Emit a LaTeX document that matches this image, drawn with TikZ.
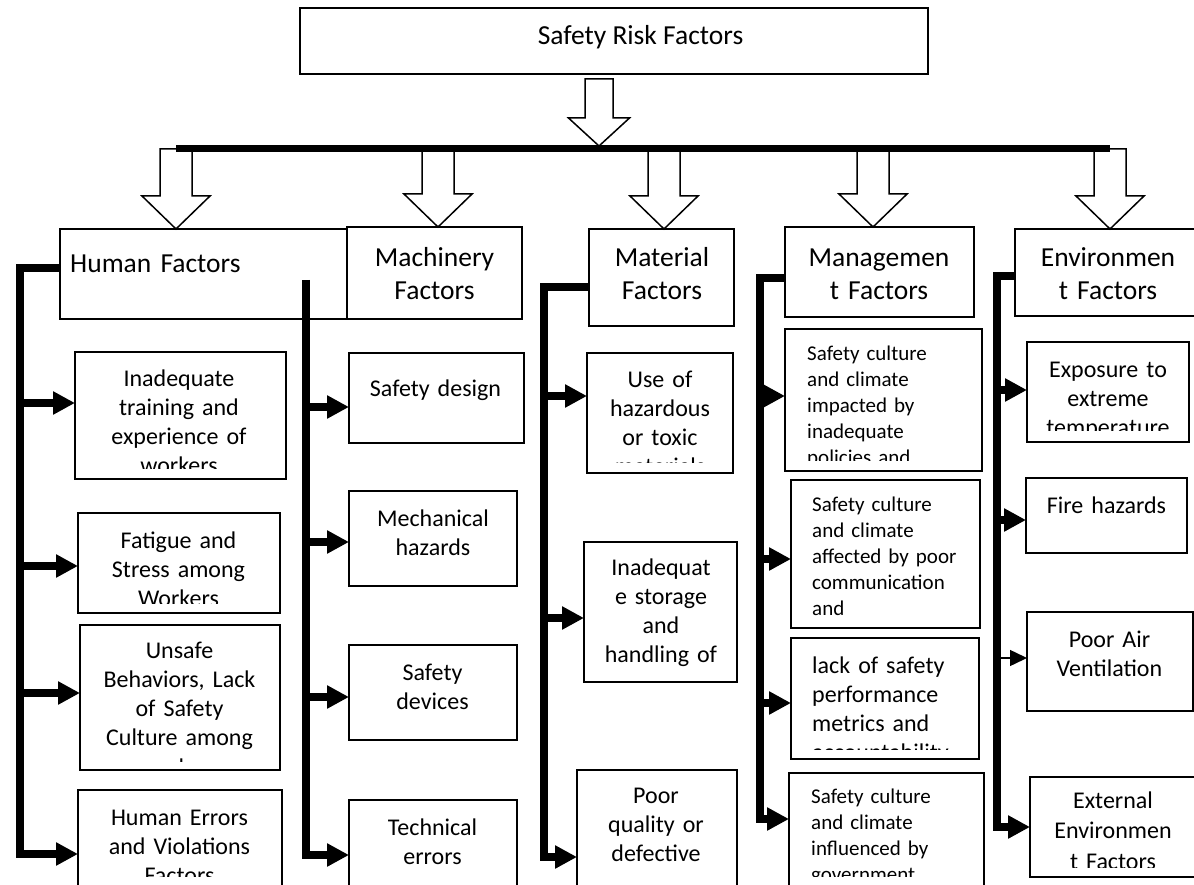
\documentclass[tikz,border=0pt]{standalone}
\usepackage{fontspec}
\setmainfont{Carlito}
\usetikzlibrary{arrows.meta, calc, positioning}

% hollow block arrow pointing down: start, tip, shaft half width, head half width, head length
\newcommand{\blockdown}[5]{%
  \draw[hollow] let \p1=(#1), \p2=(#2) in
    (\x1-#3,\y1) -- (\x1-#3,\y2+#5) -- (\x1-#4,\y2+#5) -- (\x1,\y2)
    -- (\x1+#4,\y2+#5) -- (\x1+#3,\y2+#5) -- (\x1+#3,\y1) -- cycle;
}

\begin{document}
\begin{tikzpicture}[x=1pt, y=-1pt,
  headbox/.style={draw, line width=1.3pt, inner sep=0pt, outer sep=0pt, anchor=north west},
  riskbox/.style={draw, line width=1.3pt, inner sep=0pt, outer sep=0pt, anchor=north west},
  headtext/.style={font=\fontsize{27.5}{32.5}\selectfont, inner sep=0pt, anchor=base, text width=200pt, align=center},
  subtext/.style={font=\fontsize{24}{29.3}\selectfont, inner sep=0pt, anchor=base, text width=200pt, align=center},
  smalltext/.style={font=\fontsize{21}{26}\selectfont, inner sep=0pt, anchor=base west, text width=180pt, align=left},
  spine/.style={line width=8pt},
  branch/.style={line width=8pt, -{Triangle[length=22pt, width=22pt]}},
  thinbranch/.style={line width=1.5pt, -{Triangle[length=17pt, width=16pt]}},
  hollow/.style={line width=1.5pt, fill=white, line join=miter},
  bar/.style={line width=7pt}
]
\fill[white] (0,0) rectangle (1194,885);
\useasboundingbox (0,0) rectangle (1194,885);

% top box
\node[headbox, minimum width=628pt, minimum height=66pt] (srf) at (300,8) {};
\node[font=\fontsize{27.5}{33}\selectfont, inner sep=0pt, anchor=base] (srf-txt) at (640.5,45) {Safety Risk Factors};

% header boxes
\node[headbox, minimum width=287pt, minimum height=90pt] (hh) at (60,229) {};
\node[headbox, minimum width=175pt, minimum height=92pt] (hm) at (347,227) {};
\node[headbox, minimum width=145pt, minimum height=97pt] (ht) at (589,229) {};
\node[headbox, minimum width=189pt, minimum height=90pt] (hg) at (785,227) {};
\node[headbox, minimum width=186pt, minimum height=87pt] (he) at (1015,229) {};

\node[headtext, anchor=base west, align=left] (hh-txt) at (70,273) {Human Factors};
\node[headtext] (hm-txt) at (434.5,267) {Machinery\\Factors};
\node[headtext] (ht-txt) at (662,267) {Material\\Factors};
\node[headtext] (hg-txt) at (879,267) {Managemen\\t Factors};
\node[headtext] (he-txt) at (1108,267) {Environmen\\t Factors};

% hollow arrows and bar
\coordinate (a0) at (599,79);
\coordinate (a0-tip) at (599,146);
\blockdown{a0}{a0-tip}{14pt}{30.5pt}{28pt}
\coordinate (a1) at (176,149);
\coordinate (a2) at (438,149);
\coordinate (a3) at (664,149);
\coordinate (a4) at (873,149);
\coordinate (a5) at (1110,149);
\blockdown{a1}{a1 |- hh.north}{16pt}{34pt}{33pt}
\blockdown{a2}{a2 |- hm.north}{16pt}{34pt}{33pt}
\blockdown{a3}{a3 |- ht.north}{16pt}{34pt}{33pt}
\blockdown{a4}{a4 |- hg.north}{16pt}{34pt}{33pt}
\blockdown{a5}{a5 |- he.north}{16pt}{34pt}{33pt}
\draw[bar] (a1) -- (a5);

% human factors
\node[riskbox, minimum width=211pt, minimum height=127pt] (h1) at (75,352) {};
\node[riskbox, minimum width=202pt, minimum height=100pt] (h2) at (78,513) {};
\node[riskbox, minimum width=200pt, minimum height=145pt] (h3) at (80,625) {};
\node[riskbox, minimum width=204pt, minimum height=128pt] (h4) at (78,790) {};
\begin{scope}
  \clip (h1.north west) rectangle (h1.east |- 0,468);
  \node[subtext] (h1-txt) at (179,386) {Inadequate\\training and\\experience of\\workers};
\end{scope}
\begin{scope}
  \clip (h2.north west) rectangle (h2.east |- 0,603);
  \node[subtext] (h2-txt) at (178.5,548) {Fatigue and\\Stress among\\Workers};
\end{scope}
\begin{scope}
  \clip (h3.north west) rectangle (h3.east |- 0,761);
  \node[subtext] (h3-txt) at (179.5,658) {Unsafe\\Behaviors, Lack\\of Safety\\Culture among\\workers};
\end{scope}
\begin{scope}
  \clip (h4.north west) rectangle (h4.east |- 0,876);
  \node[subtext] (h4-txt) at (179.5,825) {Human Errors\\and Violations\\Factors};
\end{scope}

% machinery factors
\node[riskbox, minimum width=175pt, minimum height=90pt] (m1) at (349,353) {};
\node[riskbox, minimum width=168pt, minimum height=95pt] (m2) at (349,491) {};
\node[riskbox, minimum width=168pt, minimum height=95pt] (m3) at (349,645) {};
\node[riskbox, minimum width=168pt, minimum height=110pt] (m4) at (349,800) {};
\node[subtext] (m1-txt) at (435.5,396) {Safety design};
\node[subtext] (m2-txt) at (433,526) {Mechanical\\hazards};
\node[subtext] (m3-txt) at (432.5,680) {Safety\\devices};
\node[subtext] (m4-txt) at (432.5,835) {Technical\\errors};

% material factors
\node[riskbox, minimum width=146pt, minimum height=120pt] (t1) at (587,353) {};
\node[riskbox, minimum width=153pt, minimum height=140pt] (t2) at (584,542) {};
\node[riskbox, minimum width=160pt, minimum height=174pt] (t3) at (577,770) {};
\begin{scope}
  \clip (t1.north west) rectangle (t1.east |- 0,462);
  \node[subtext] (t1-txt) at (660,387) {Use of\\hazardous\\or toxic\\materials};
\end{scope}
\node[subtext] (t2-txt) at (661,575) {Inadequat\\e storage\\and\\handling of};
\node[subtext] (t3-txt) at (656,803) {Poor\\quality or\\defective};

% management factors
\node[riskbox, minimum width=197pt, minimum height=142pt] (g1) at (785,329) {};
\node[riskbox, minimum width=189pt, minimum height=148pt] (g2) at (791,480) {};
\node[riskbox, minimum width=188pt, minimum height=121pt] (g3) at (791,638) {};
\node[riskbox, minimum width=195pt, minimum height=130pt] (g4) at (789,773) {};
\begin{scope}
  \clip (g1.north west) rectangle (g1.east |- 0,460);
  \node[smalltext] (g1-txt) at (807,360) {Safety culture\\and climate\\impacted by\\inadequate\\policies and};
\end{scope}
\node[smalltext] (g2-txt) at (812,511) {Safety culture\\and climate\\affected by poor\\communication\\and};
\begin{scope}
  \clip (g3.north west) rectangle (g3.east |- 0,749);
  \node[subtext, anchor=base west, align=left] (g3-txt) at (812,673) {lack of safety\\performance\\metrics and\\accountability};
\end{scope}
\begin{scope}
  \clip (g4.north west) rectangle (g4.east |- 0,876);
  \node[smalltext] (g4-txt) at (811,803) {Safety culture\\and climate\\influenced by\\government};
\end{scope}

% environment factors
\node[riskbox, minimum width=162pt, minimum height=100pt] (e1) at (1027,342) {};
\node[riskbox, minimum width=161pt, minimum height=75pt] (e2) at (1026,478) {};
\node[riskbox, minimum width=166pt, minimum height=99pt] (e3) at (1027,612) {};
\node[riskbox, minimum width=172pt, minimum height=100pt] (e4) at (1030,777) {};
\begin{scope}
  \clip (e1.north west) rectangle (e1.east |- 0,430);
  \node[subtext] (e1-txt) at (1108,377) {Exposure to\\extreme\\temperature};
\end{scope}
\node[subtext] (e2-txt) at (1106.5,513) {Fire hazards};
\node[subtext] (e3-txt) at (1109.5,647) {Poor Air\\Ventilation};
\begin{scope}
  \clip (e4.north west) rectangle (e4.east |- 0,867);
  \node[subtext, font=\fontsize{24}{30.5}\selectfont] (e4-txt) at (1113,808) {External\\Environmen\\t Factors};
\end{scope}

% connector points
\coordinate (hh-out) at ([yshift=6pt]hh.west);
\coordinate (h1-in) at ([yshift=12.5pt]h1.west);
\coordinate (h2-in) at ([yshift=-3pt]h2.west);
\coordinate (h3-in) at ([yshift=4.5pt]h3.west);
\coordinate (h4-in) at (h4.west);
\coordinate (hsp) at (20,0);

\coordinate (msp) at (306,280);
\coordinate (m1-in) at ([yshift=-9pt]m1.west);
\coordinate (m2-in) at ([yshift=-3.5pt]m2.west);
\coordinate (m3-in) at ([yshift=-4.5pt]m3.west);
\coordinate (m4-in) at (m4.west);

\coordinate (ht-out) at ([yshift=-9.5pt]ht.west);
\coordinate (t1-in) at ([yshift=17pt]t1.west);
\coordinate (t2-in) at ([yshift=-6pt]t2.west);
\coordinate (t3-in) at (t3.west);
\coordinate (tsp) at (544,0);

\coordinate (hg-out) at ([yshift=-6pt]hg.west);
\coordinate (g1-in) at ([yshift=4pt]g1.west);
\coordinate (g2-in) at ([yshift=-5pt]g2.west);
\coordinate (g3-in) at ([yshift=-4.5pt]g3.west);
\coordinate (g4-in) at ([yshift=19pt]g4.west);
\coordinate (gsp) at (760,0);

\coordinate (he-out) at ([yshift=-3.5pt]he.west);
\coordinate (e1-in) at ([yshift=2pt]e1.west);
\coordinate (e2-in) at ([yshift=-4.5pt]e2.west);
\coordinate (e3-in) at ([yshift=3.5pt]e3.west);
\coordinate (e4-in) at (e4.west);
\coordinate (esp) at (997,0);

% spines with branches
\draw[branch] (hh-out) -| (hsp |- h4-in) -- (h4-in);
\draw[branch] (hsp |- h1-in) -- (h1-in);
\draw[branch] (hsp |- h2-in) -- (h2-in);
\draw[branch] (hsp |- h3-in) -- (h3-in);

\draw[branch] (msp) |- (m4-in);
\draw[branch] (msp |- m1-in) -- (m1-in);
\draw[branch] (msp |- m2-in) -- (m2-in);
\draw[branch] (msp |- m3-in) -- (m3-in);

\draw[branch] (ht-out) -| (tsp |- t3-in) -- (t3-in);
\draw[branch] (tsp |- t1-in) -- (t1-in);
\draw[branch] (tsp |- t2-in) -- (t2-in);

\draw[branch] (hg-out) -| (gsp |- g4-in) -- (g4-in);
\draw[branch] (gsp |- g1-in) -- (g1-in);
\draw[branch] (gsp |- g2-in) -- (g2-in);
\draw[branch] (gsp |- g3-in) -- (g3-in);

\draw[branch] (he-out) -| (esp |- e4-in) -- (e4-in);
\draw[branch] (esp |- e1-in) -- (e1-in);
\draw[branch] (esp |- e2-in) -- (e2-in);
\draw[thinbranch] (esp |- e3-in) -- (e3-in);
\end{tikzpicture}
\end{document}
